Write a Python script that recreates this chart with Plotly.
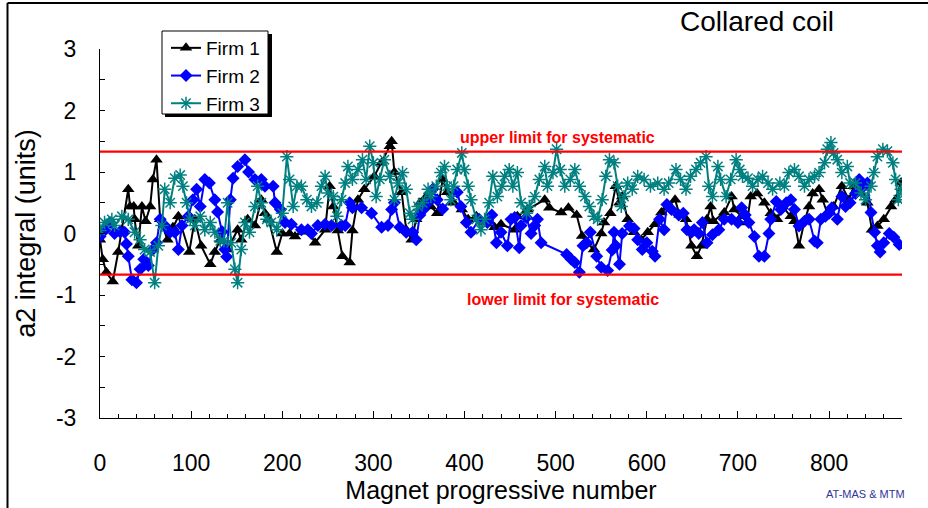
import plotly.graph_objects as go

# Firm 1 measurements (magnet number, a2 integral in units)
firm1_x = [0, 3, 7, 14, 20, 24, 31, 33, 37, 38, 42, 46, 50, 55, 58, 62, 66, 74, 80, 86,
           98, 104, 111, 121, 126, 132, 140, 151, 155, 162, 170, 177, 181, 185, 194, 200,
           208, 214, 222, 228, 236, 247, 252, 256, 261, 266, 274, 277, 283, 290, 301, 309,
           318, 320, 323, 331, 336, 342, 347, 351, 358, 363, 370, 376, 381, 388, 397, 404,
           413, 422, 433, 440, 455, 458, 469, 488, 493, 506, 514, 523, 529, 534, 542, 550,
           553, 560, 566, 570, 573, 579, 586, 594, 601, 609, 616, 623, 631, 636, 643, 649,
           655, 660, 666, 670, 673, 685, 693, 696, 704, 710, 714, 721, 729, 736, 743, 749,
           758, 762, 767, 773, 778, 782, 789, 793, 798, 805, 814, 822, 827, 835, 842, 847,
           853, 860, 868, 873, 879]
firm1_y = [-0.1, -0.42, -0.63, -0.78, -0.3, 0.06, 0.72, 0.44, 0.44, 0.23, -0.2, 0.44, 0.2, 0.44, 0.88, 1.2, 0.23, -0.1, 0.1, 0.28,
           -0.3, 0.23, -0.2, -0.5, -0.3, -0.1, -0.26, 0.06, -0.1, 0.23, 0.13, 0.55, 0.33, 0.23, -0.3, 0.0,
           0.0, -0.05, 0.03, 0.06, -0.15, 0.06, 0.77, 0.44, 0.05, -0.37, -0.47, 0.05, 0.55, 0.72, 0.93, 1.15,
           1.42, 1.5, 1.0, 0.67, 0.06, -0.1, 0.23, 0.5, 0.6, 0.44, 0.33, 0.88, 0.67, 0.5, 0.39, 0.23,
           0.28, 0.18, 0.1, 0.15, 0.06, 0.28, 0.39, 0.55, 0.42, 0.34, 0.42, 0.3, -0.04, -0.15, -0.26, 0.0,
           0.18, 0.33, 0.77, 0.5, 0.6, 0.23, 0.02, -0.1, 0.02, 0.15, 0.34, 0.44, 0.55, 0.3, 0.23, -0.2,
           -0.37, -0.2, 0.23, 0.44, 0.2, 0.34, 0.6, 0.39, 0.28, 0.18, 0.6, 0.65, 0.5, 0.33, 0.23, 0.44,
           0.28, 0.2, -0.2, 0.2, 0.44, 0.65, 0.72, 0.55, 0.33, 0.44, 0.77, 0.55, 0.77, 0.65, 0.5, 0.06,
           0.12, 0.23, 0.44, 0.55, 0.83]

# Firm 2 measurements
firm2_x = [0, 5, 11, 16, 22, 27, 29, 31, 35, 40, 44, 48, 53, 58, 62, 66, 71, 77, 82, 86,
           90, 97, 102, 106, 110, 115, 120, 126, 129, 134, 137, 139, 143, 146, 151, 159, 163, 170,
           177, 181, 190, 192, 198, 203, 210, 221, 228, 232, 239, 247, 254, 265, 269, 274, 277,
           287, 298, 309, 316, 320, 323, 329, 336, 343, 347, 351, 355, 360, 365, 370, 376, 392,
           396, 402, 407, 416, 425, 430, 435, 440, 447, 451, 455, 460, 462, 468, 473, 477, 480,
           484, 512, 517, 521, 526, 530, 534, 538, 545, 550, 557, 562, 564, 566, 570, 573, 581,
           586, 590, 595, 600, 606, 609, 614, 619, 622, 627, 635, 640, 644, 649, 652, 657, 661,
           666, 672, 679, 685, 693, 700, 704, 708, 712, 718, 723, 729, 734, 736, 742, 747, 753,
           758, 762, 767, 773, 778, 784, 787, 791, 796, 800, 803, 809, 814, 818, 823, 829, 833,
           838, 842, 846, 850, 853, 856, 860, 866, 871, 877]
firm2_y = [-0.05, 0.05, 0.18, 0.0, 0.03, 0.02, -0.17, -0.37, -0.75, -0.8, -0.58, -0.42, -0.52, -0.26, -0.15, 0.23, 0.13, 0.02, 0.02, -0.26,
           0.13, 0.28, 0.55, 0.72, 0.44, 0.88, 0.82, 0.55, 0.35, 0.03, -0.26, -0.38, 0.55, 0.9, 1.09, 1.2, 1.0, 0.88,
           0.88, 0.77, 0.77, 0.5, 0.39, 0.18, 0.15, 0.06, 0.06, 0.0, 0.13, 0.15, 0.13, 0.13, 0.13, 0.5, 0.42,
           0.42, 0.33, 0.1, 0.13, 0.39, 0.5, 0.1, 0.02, 0.02, -0.1, 0.3, 0.39, 0.5, 0.72, 0.55, 0.4, 0.67,
           0.44, 0.18, 0.02, 0.23, 0.18, 0.3, -0.15, 0.02, -0.2, 0.23, 0.26, -0.23, 0.13, 0.26, 0.0, 0.13, 0.23,
           -0.15, -0.34, -0.42, -0.47, -0.63, -0.2, -0.15, 0.02, -0.37, -0.55, -0.6, -0.27, 0.02, -0.2, -0.5, 0.0, 0.12,
           0.08, -0.1, -0.26, -0.15, -0.29, -0.37, 0.23, 0.06, 0.47, 0.39, 0.3, 0.33, 0.06, 0.02, 0.06, 0.0, 0.18,
           -0.15, -0.02, 0.06, 0.23, 0.23, 0.18, 0.42, 0.3, 0.18, -0.05, -0.37, -0.37, 0.0, 0.23, 0.52, 0.39, 0.5,
           0.55, 0.39, 0.12, 0.2, 0.23, -0.12, -0.15, 0.23, 0.28, 0.33, 0.42, 0.23, 0.6, 0.44, 0.5, 0.65, 0.88,
           0.77, 0.82, 0.34, 0.02, -0.2, -0.3, -0.15, 0.0, -0.06, -0.18]

# Firm 3 measurements
firm3_x = [0, 5, 13, 16, 24, 31, 38, 44, 49, 55, 60, 64, 68, 71, 77, 82, 88, 91, 95, 99,
           104, 110, 115, 121, 126, 132, 136, 140, 144, 148, 151, 155, 159, 164, 170, 173, 177,
           183, 188, 194, 200, 205, 208, 212, 216, 221, 227, 232, 238, 243, 247, 250, 256, 260,
           265, 269, 272, 277, 283, 288, 292, 296, 300, 303, 307, 312, 318, 323, 327, 332, 336,
           340, 343, 349, 354, 360, 363, 369, 374, 378, 381, 385, 388, 392, 397, 400, 404, 407,
           413, 418, 422, 427, 431, 436, 441, 444, 449, 453, 458, 462, 468, 471, 477, 482, 488,
           491, 497, 501, 505, 510, 516, 521, 526, 532, 537, 542, 546, 551, 555, 559, 564, 568,
           572, 575, 579, 584, 590, 597, 604, 612, 619, 624, 632, 637, 643, 648, 654, 659, 665,
           668, 672, 678, 681, 687, 692, 698, 702, 705, 711, 716, 722, 727, 733, 738, 746, 751,
           756, 762, 767, 773, 778, 784, 789, 795, 798, 802, 805, 809, 814, 820, 823, 829, 835,
           840, 846, 849, 853, 859, 864, 870, 873, 876, 879]
firm3_y = [0.05, 0.18, 0.23, 0.13, 0.28, 0.23, 0.02, -0.1, -0.26, -0.3, -0.8, -0.2, 0.13, 0.72, 0.5, 0.9, 0.95, 0.77, 0.5, 0.23,
           0.13, 0.28, 0.06, 0.18, 0.02, -0.12, -0.12, 0.5, -0.15, -0.58, -0.8, -0.26, 0.18, 0.02, 0.44, 0.77, 0.5,
           0.23, 0.18, 0.06, 0.33, 1.25, 0.88, 0.44, 0.77, 0.77, 0.55, 0.44, 0.5, 0.77, 0.93, 0.66, 0.6, 0.28,
           0.55, 0.82, 1.09, 0.88, 1.04, 1.2, 0.88, 1.42, 1.15, 0.6, 0.88, 1.2, 0.93, 0.55, 0.82, 0.99, 0.72,
           0.33, 0.23, 0.44, 0.5, 0.72, 0.6, 0.77, 0.99, 1.09, 0.77, 0.55, 0.77, 1.04, 1.31, 1.04, 0.77, 0.55,
           0.23, 0.06, 0.23, 0.5, 0.93, 0.6, 0.77, 0.93, 1.04, 0.77, 0.99, 0.5, 0.33, 0.44, 0.6, 0.88, 1.09,
           0.77, 0.99, 1.37, 1.04, 0.77, 0.88, 1.04, 0.77, 0.6, 0.44, 0.28, 0.23, 0.55, 0.93, 1.2, 1.15, 0.77,
           0.44, 0.6, 0.82, 0.72, 0.93, 0.88, 0.77, 0.82, 0.72, 0.82, 1.04, 0.88, 0.72, 0.93, 1.04, 1.15, 1.25,
           0.77, 0.6, 1.09, 0.88, 0.6, 0.88, 1.2, 1.04, 0.93, 0.9, 0.77, 0.88, 0.93, 0.82, 0.72, 0.82, 0.77,
           0.99, 1.04, 0.93, 0.77, 0.88, 0.93, 0.99, 1.15, 1.37, 1.48, 1.31, 1.2, 0.99, 1.09, 0.82, 0.82, 0.66,
           0.55, 0.77, 0.99, 1.25, 1.37, 1.34, 1.15, 0.88, 0.55, 0.72]

# Systematic limits
upper_limit = 1.33
lower_limit = -0.67

x_range = [0, 880]
y_range = [-3, 3]
y_ticks = [-3, -2, -1, 0, 1, 2, 3]
y_tick_labels = ["-3", "-2", "-1", "0", "1", "2", "3"]
x_ticks = [0, 100, 200, 300, 400, 500, 600, 700, 800]

FONT = "Liberation Sans, Arial, sans-serif"

W, H = 928, 508
ML, MR, MT, MB = 100, 26, 49, 90
PW, PH = W - ML - MR, H - MT - MB


def px(xp):
    return (xp - ML) / PW


def py(yp):
    return (H - MB - yp) / PH


fig = go.Figure()

fig.add_trace(go.Scatter(
    x=firm1_x, y=firm1_y, name="Firm 1", mode="lines+markers",
    line=dict(color="black", width=2),
    marker=dict(symbol="triangle-up", size=11, color="black"),
))
fig.add_trace(go.Scatter(
    x=firm2_x, y=firm2_y, name="Firm 2", mode="lines+markers",
    line=dict(color="#0000FF", width=2),
    marker=dict(symbol="diamond", size=10, color="#0000FF"),
))
fig.add_trace(go.Scatter(
    x=firm3_x, y=firm3_y, name="Firm 3", mode="lines+markers",
    line=dict(color="#008080", width=2),
    marker=dict(symbol="asterisk-open", size=11, color="#008080",
                line=dict(color="#008080", width=1.5)),
))

shapes = [
    # systematic limits
    dict(type="line", xref="x", yref="y", x0=x_range[0], x1=x_range[1],
         y0=upper_limit, y1=upper_limit, line=dict(color="#FF0000", width=2.2)),
    dict(type="line", xref="x", yref="y", x0=x_range[0], x1=x_range[1],
         y0=lower_limit, y1=lower_limit, line=dict(color="#FF0000", width=2.2)),
    # outer frame (left and top edges)
    dict(type="line", xref="paper", yref="paper", x0=px(7.5), x1=px(7.5),
         y0=py(3), y1=py(508), line=dict(color="black", width=2)),
    dict(type="line", xref="paper", yref="paper", x0=px(7.5), x1=px(928),
         y0=py(3), y1=py(3), line=dict(color="black", width=2)),
    # legend box with drop shadow
    dict(type="rect", xref="paper", yref="paper", x0=px(165), x1=px(272),
         y0=py(117), y1=py(34), fillcolor="black", line=dict(width=0)),
    dict(type="rect", xref="paper", yref="paper", x0=px(162), x1=px(268),
         y0=py(114), y1=py(31), fillcolor="white", line=dict(color="black", width=1)),
]

annotations = [
    dict(text="upper limit for systematic", x=502, y=upper_limit, xref="x", yref="y",
         yanchor="bottom", yshift=4, showarrow=False,
         font=dict(family=FONT, size=16, color="#FF0000", weight="bold")),
    dict(text="lower limit for systematic", x=508, y=lower_limit, xref="x", yref="y",
         yanchor="top", yshift=-14, showarrow=False,
         font=dict(family=FONT, size=16, color="#FF0000", weight="bold")),
    dict(text="Collared coil", x=px(757), y=py(22), xref="paper", yref="paper",
         xanchor="center", yanchor="middle", showarrow=False,
         font=dict(family=FONT, size=28, color="black")),
    dict(text="AT-MAS & MTM", x=px(865), y=py(494), xref="paper", yref="paper",
         xanchor="center", yanchor="middle", showarrow=False,
         font=dict(family=FONT, size=11, color="#333399")),
]

fig.update_layout(
    width=W, height=H,
    margin=dict(l=ML, r=MR, t=MT, b=MB, autoexpand=False),
    paper_bgcolor="white", plot_bgcolor="white",
    font=dict(family=FONT, color="black"),
    shapes=shapes, annotations=annotations,
    showlegend=True,
    legend=dict(x=px(166), y=py(29), xanchor="left", yanchor="top",
                bgcolor="rgba(0,0,0,0)", borderwidth=0,
                font=dict(family=FONT, size=19, color="black"),
                itemwidth=30, tracegroupgap=0),
)

fig.update_xaxes(
    range=x_range, tickvals=x_ticks, ticks="inside", ticklen=7, tickwidth=1,
    tickcolor="black", showline=True, linecolor="black", linewidth=1,
    showgrid=False, zeroline=False, ticklabelstandoff=24,
    tickfont=dict(family=FONT, size=23, color="black"),
    minor=dict(dtick=20, ticks="inside", ticklen=4, tickcolor="black", showgrid=False),
    title=dict(text="Magnet progressive number", standoff=6,
               font=dict(family=FONT, size=25, color="black")),
)
fig.update_yaxes(
    range=y_range, tickvals=y_ticks, ticktext=y_tick_labels, ticks="inside",
    ticklen=5, tickwidth=1,
    tickcolor="black", showline=True, linecolor="black", linewidth=1,
    showgrid=False, zeroline=False, ticklabelstandoff=18,
    tickfont=dict(family=FONT, size=23, color="black"),
    minor=dict(dtick=0.5, ticks="inside", ticklen=5, tickcolor="black", showgrid=False),
    title=dict(text="a2 integral (units)", standoff=12,
               font=dict(family=FONT, size=27, color="black")),
)

fig.write_html("out.html")
